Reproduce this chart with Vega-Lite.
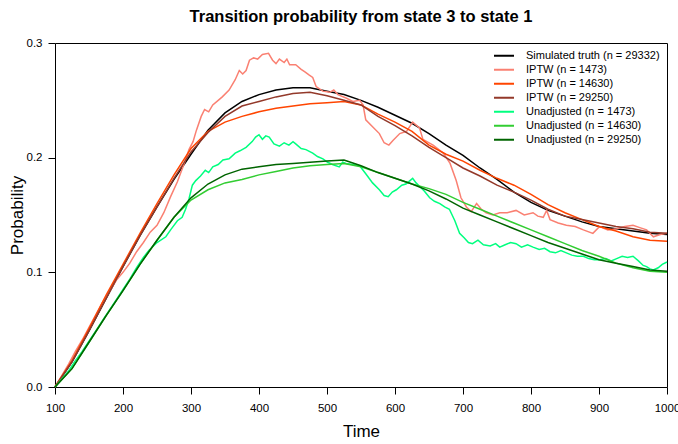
{
  "$schema": "https://vega.github.io/schema/vega-lite/v6.json",
  "width": 612,
  "height": 344,
  "autosize": {"type": "none"},
  "padding": {"left": 55, "top": 43, "right": 11, "bottom": 57},
  "background": "white",
  "config": {
    "font": "Liberation Sans",
    "view": {"stroke": "black", "strokeWidth": 1},
    "axis": {"grid": false, "domain": false, "tickColor": "black", "tickSize": 7, "labelColor": "black", "titleColor": "black", "labelFontSize": 11.5, "titleFontSize": 17, "titleFontWeight": "normal", "labelFont": "Liberation Sans", "titleFont": "Liberation Sans"},
    "title": {"font": "Liberation Sans", "fontSize": 16.5, "fontWeight": "bold", "color": "black"}
  },
  "title": {"text": "Transition probability from state 3 to state 1", "offset": 12},
  "encoding": {
    "x": {"field": "t", "type": "quantitative", "scale": {"domain": [100, 1000], "nice": false, "zero": false},
      "axis": {"values": [100,200,300,400,500,600,700,800,900,1000], "format": "d", "title": "Time", "labelPadding": 8, "titlePadding": 10, "labelFlush": false}},
    "y": {"field": "p", "type": "quantitative", "scale": {"domain": [0, 0.3], "nice": false},
      "axis": {"values": [0, 0.1, 0.2, 0.3], "format": ".1f", "title": "Probability", "labelPadding": 6, "titlePadding": 0}}
  },
  "layer": [
    {
      "data": {"values": [
        {"t":100,"p":0},{"t":125,"p":0.022},{"t":150,"p":0.049},{"t":175,"p":0.077},{"t":200,"p":0.105},{"t":225,"p":0.132},{"t":250,"p":0.157},{"t":275,"p":0.181},{"t":300,"p":0.203},{"t":325,"p":0.224},{"t":350,"p":0.239},{"t":375,"p":0.249},{"t":400,"p":0.255},{"t":425,"p":0.259},{"t":450,"p":0.261},{"t":475,"p":0.261},{"t":500,"p":0.258},{"t":525,"p":0.255},{"t":550,"p":0.25},{"t":575,"p":0.244},{"t":600,"p":0.237},{"t":625,"p":0.23},{"t":650,"p":0.221},{"t":675,"p":0.211},{"t":700,"p":0.202},{"t":725,"p":0.191},{"t":750,"p":0.181},{"t":775,"p":0.17},{"t":800,"p":0.161},{"t":825,"p":0.154},{"t":850,"p":0.149},{"t":875,"p":0.144},{"t":900,"p":0.14},{"t":925,"p":0.138},{"t":950,"p":0.136},{"t":975,"p":0.134},{"t":1000,"p":0.133}
      ]},
      "mark": {"type": "line", "strokeWidth": 1.5},
      "encoding": {
        "color": {"datum": "Simulated truth (n = 29332)", "type": "nominal",
          "scale": {"domain": ["Simulated truth (n = 29332)", "IPTW (n = 1473)", "IPTW (n = 14630)", "IPTW (n = 29250)", "Unadjusted (n = 1473)", "Unadjusted (n = 14630)", "Unadjusted (n = 29250)"],
                    "range": ["#000000", "#FA8072", "#FF4500", "#93392A", "#00FF7F", "#32CD32", "#006400"]},
          "legend": {"title": null, "orient": "none", "legendX": 438, "legendY": 6, "padding": 0, "symbolType": "stroke", "symbolSize": 400, "symbolStrokeWidth": 2, "labelFontSize": 11, "labelColor": "black", "labelOffset": 11, "clipHeight": 13.3, "rowPadding": 0, "labelFont": "Liberation Sans"}}
      }
    },
    {
      "data": {"values": [
        {"t":100,"p":0},{"t":110,"p":0.01},{"t":120,"p":0.02},{"t":130,"p":0.031},{"t":140,"p":0.041},{"t":150,"p":0.052},{"t":160,"p":0.063},{"t":170,"p":0.074},{"t":180,"p":0.083},{"t":190,"p":0.093},{"t":200,"p":0.1},{"t":210,"p":0.108},{"t":220,"p":0.118},{"t":230,"p":0.126},{"t":240,"p":0.135},{"t":250,"p":0.141},{"t":260,"p":0.152},{"t":270,"p":0.166},{"t":280,"p":0.179},{"t":290,"p":0.195},{"t":297,"p":0.207},{"t":303,"p":0.214},{"t":308,"p":0.224},{"t":315,"p":0.236},{"t":320,"p":0.242},{"t":326,"p":0.24},{"t":332,"p":0.246},{"t":340,"p":0.25},{"t":346,"p":0.253},{"t":356,"p":0.259},{"t":365,"p":0.268},{"t":371,"p":0.276},{"t":376,"p":0.273},{"t":381,"p":0.276},{"t":386,"p":0.285},{"t":392,"p":0.287},{"t":398,"p":0.286},{"t":405,"p":0.29},{"t":414,"p":0.291},{"t":420,"p":0.285},{"t":425,"p":0.282},{"t":430,"p":0.286},{"t":437,"p":0.283},{"t":441,"p":0.286},{"t":445,"p":0.281},{"t":454,"p":0.281},{"t":462,"p":0.277},{"t":467,"p":0.275},{"t":474,"p":0.272},{"t":479,"p":0.27},{"t":484,"p":0.262},{"t":494,"p":0.258},{"t":504,"p":0.257},{"t":510,"p":0.259},{"t":516,"p":0.255},{"t":528,"p":0.252},{"t":538,"p":0.249},{"t":548,"p":0.25},{"t":553,"p":0.246},{"t":557,"p":0.233},{"t":567,"p":0.227},{"t":577,"p":0.221},{"t":584,"p":0.213},{"t":591,"p":0.211},{"t":597,"p":0.215},{"t":607,"p":0.221},{"t":617,"p":0.223},{"t":626,"p":0.231},{"t":636,"p":0.226},{"t":641,"p":0.216},{"t":656,"p":0.211},{"t":671,"p":0.204},{"t":681,"p":0.195},{"t":690,"p":0.18},{"t":697,"p":0.165},{"t":705,"p":0.157},{"t":712,"p":0.153},{"t":720,"p":0.16},{"t":727,"p":0.155},{"t":734,"p":0.152},{"t":744,"p":0.15},{"t":754,"p":0.152},{"t":765,"p":0.152},{"t":778,"p":0.154},{"t":790,"p":0.15},{"t":803,"p":0.152},{"t":810,"p":0.149},{"t":818,"p":0.148},{"t":823,"p":0.154},{"t":828,"p":0.146},{"t":840,"p":0.143},{"t":852,"p":0.141},{"t":865,"p":0.14},{"t":877,"p":0.137},{"t":891,"p":0.134},{"t":901,"p":0.14},{"t":913,"p":0.137},{"t":926,"p":0.138},{"t":938,"p":0.14},{"t":950,"p":0.141},{"t":960,"p":0.139},{"t":970,"p":0.137},{"t":980,"p":0.131},{"t":990,"p":0.133},{"t":1000,"p":0.134}
      ]},
      "mark": {"type": "line", "strokeWidth": 1.5},
      "encoding": {"color": {"datum": "IPTW (n = 1473)", "type": "nominal"}}
    },
    {
      "data": {"values": [
        {"t":100,"p":0},{"t":125,"p":0.023},{"t":150,"p":0.051},{"t":175,"p":0.08},{"t":200,"p":0.107},{"t":225,"p":0.134},{"t":250,"p":0.16},{"t":275,"p":0.185},{"t":300,"p":0.208},{"t":325,"p":0.223},{"t":350,"p":0.231},{"t":375,"p":0.236},{"t":400,"p":0.24},{"t":425,"p":0.243},{"t":450,"p":0.245},{"t":475,"p":0.247},{"t":500,"p":0.248},{"t":525,"p":0.249},{"t":550,"p":0.246},{"t":575,"p":0.238},{"t":600,"p":0.231},{"t":625,"p":0.223},{"t":650,"p":0.211},{"t":675,"p":0.203},{"t":700,"p":0.197},{"t":725,"p":0.189},{"t":750,"p":0.182},{"t":775,"p":0.176},{"t":800,"p":0.168},{"t":825,"p":0.159},{"t":850,"p":0.152},{"t":875,"p":0.146},{"t":900,"p":0.14},{"t":925,"p":0.136},{"t":950,"p":0.131},{"t":975,"p":0.128},{"t":1000,"p":0.127}
      ]},
      "mark": {"type": "line", "strokeWidth": 1.5},
      "encoding": {"color": {"datum": "IPTW (n = 14630)", "type": "nominal"}}
    },
    {
      "data": {"values": [
        {"t":100,"p":0},{"t":125,"p":0.022},{"t":150,"p":0.049},{"t":175,"p":0.077},{"t":200,"p":0.105},{"t":225,"p":0.132},{"t":250,"p":0.157},{"t":275,"p":0.182},{"t":300,"p":0.205},{"t":325,"p":0.222},{"t":350,"p":0.236},{"t":375,"p":0.245},{"t":400,"p":0.249},{"t":425,"p":0.253},{"t":450,"p":0.256},{"t":475,"p":0.257},{"t":500,"p":0.254},{"t":525,"p":0.25},{"t":550,"p":0.246},{"t":575,"p":0.236},{"t":600,"p":0.228},{"t":625,"p":0.219},{"t":650,"p":0.209},{"t":675,"p":0.2},{"t":700,"p":0.191},{"t":725,"p":0.184},{"t":750,"p":0.176},{"t":775,"p":0.17},{"t":800,"p":0.163},{"t":825,"p":0.155},{"t":850,"p":0.149},{"t":875,"p":0.146},{"t":900,"p":0.143},{"t":925,"p":0.14},{"t":950,"p":0.138},{"t":975,"p":0.135},{"t":1000,"p":0.134}
      ]},
      "mark": {"type": "line", "strokeWidth": 1.5},
      "encoding": {"color": {"datum": "IPTW (n = 29250)", "type": "nominal"}}
    },
    {
      "data": {"values": [
        {"t":100,"p":0},{"t":110,"p":0.007},{"t":120,"p":0.014},{"t":130,"p":0.023},{"t":140,"p":0.031},{"t":150,"p":0.04},{"t":160,"p":0.049},{"t":170,"p":0.058},{"t":180,"p":0.067},{"t":190,"p":0.076},{"t":200,"p":0.085},{"t":210,"p":0.094},{"t":220,"p":0.104},{"t":230,"p":0.113},{"t":238,"p":0.119},{"t":250,"p":0.126},{"t":263,"p":0.131},{"t":270,"p":0.137},{"t":280,"p":0.145},{"t":287,"p":0.148},{"t":292,"p":0.155},{"t":297,"p":0.164},{"t":302,"p":0.176},{"t":307,"p":0.18},{"t":314,"p":0.184},{"t":321,"p":0.189},{"t":326,"p":0.187},{"t":332,"p":0.192},{"t":340,"p":0.194},{"t":347,"p":0.198},{"t":356,"p":0.199},{"t":365,"p":0.204},{"t":372,"p":0.206},{"t":381,"p":0.209},{"t":390,"p":0.214},{"t":395,"p":0.218},{"t":400,"p":0.22},{"t":405,"p":0.216},{"t":410,"p":0.219},{"t":415,"p":0.218},{"t":422,"p":0.212},{"t":430,"p":0.21},{"t":437,"p":0.213},{"t":444,"p":0.211},{"t":450,"p":0.214},{"t":454,"p":0.212},{"t":462,"p":0.208},{"t":469,"p":0.207},{"t":479,"p":0.204},{"t":486,"p":0.201},{"t":494,"p":0.199},{"t":501,"p":0.196},{"t":508,"p":0.194},{"t":518,"p":0.192},{"t":523,"p":0.196},{"t":528,"p":0.195},{"t":538,"p":0.194},{"t":548,"p":0.193},{"t":557,"p":0.186},{"t":567,"p":0.178},{"t":577,"p":0.172},{"t":584,"p":0.167},{"t":590,"p":0.166},{"t":596,"p":0.17},{"t":602,"p":0.172},{"t":610,"p":0.176},{"t":616,"p":0.177},{"t":622,"p":0.18},{"t":626,"p":0.182},{"t":631,"p":0.178},{"t":636,"p":0.175},{"t":643,"p":0.171},{"t":651,"p":0.165},{"t":658,"p":0.162},{"t":666,"p":0.16},{"t":673,"p":0.157},{"t":680,"p":0.155},{"t":688,"p":0.145},{"t":695,"p":0.134},{"t":702,"p":0.13},{"t":708,"p":0.126},{"t":714,"p":0.125},{"t":722,"p":0.128},{"t":730,"p":0.124},{"t":740,"p":0.123},{"t":748,"p":0.125},{"t":754,"p":0.122},{"t":762,"p":0.124},{"t":770,"p":0.126},{"t":778,"p":0.125},{"t":786,"p":0.122},{"t":795,"p":0.124},{"t":803,"p":0.122},{"t":812,"p":0.12},{"t":820,"p":0.121},{"t":828,"p":0.118},{"t":836,"p":0.117},{"t":844,"p":0.119},{"t":852,"p":0.117},{"t":860,"p":0.115},{"t":868,"p":0.114},{"t":877,"p":0.114},{"t":885,"p":0.112},{"t":893,"p":0.111},{"t":901,"p":0.111},{"t":910,"p":0.112},{"t":918,"p":0.11},{"t":926,"p":0.112},{"t":934,"p":0.114},{"t":942,"p":0.113},{"t":950,"p":0.114},{"t":958,"p":0.11},{"t":965,"p":0.106},{"t":970,"p":0.105},{"t":975,"p":0.103},{"t":980,"p":0.102},{"t":987,"p":0.104},{"t":993,"p":0.107},{"t":1000,"p":0.109}
      ]},
      "mark": {"type": "line", "strokeWidth": 1.5},
      "encoding": {"color": {"datum": "Unadjusted (n = 1473)", "type": "nominal"}}
    },
    {
      "data": {"values": [
        {"t":100,"p":0},{"t":125,"p":0.016},{"t":150,"p":0.039},{"t":175,"p":0.062},{"t":200,"p":0.084},{"t":225,"p":0.107},{"t":250,"p":0.128},{"t":275,"p":0.148},{"t":300,"p":0.163},{"t":325,"p":0.172},{"t":350,"p":0.178},{"t":375,"p":0.181},{"t":400,"p":0.185},{"t":425,"p":0.188},{"t":450,"p":0.191},{"t":475,"p":0.193},{"t":500,"p":0.194},{"t":525,"p":0.195},{"t":550,"p":0.192},{"t":575,"p":0.187},{"t":600,"p":0.182},{"t":625,"p":0.177},{"t":650,"p":0.173},{"t":675,"p":0.168},{"t":700,"p":0.161},{"t":725,"p":0.155},{"t":750,"p":0.149},{"t":775,"p":0.143},{"t":800,"p":0.137},{"t":825,"p":0.131},{"t":850,"p":0.125},{"t":875,"p":0.119},{"t":900,"p":0.114},{"t":925,"p":0.108},{"t":950,"p":0.104},{"t":975,"p":0.101},{"t":1000,"p":0.1}
      ]},
      "mark": {"type": "line", "strokeWidth": 1.5},
      "encoding": {"color": {"datum": "Unadjusted (n = 14630)", "type": "nominal"}}
    },
    {
      "data": {"values": [
        {"t":100,"p":0},{"t":125,"p":0.016},{"t":150,"p":0.039},{"t":175,"p":0.062},{"t":200,"p":0.084},{"t":225,"p":0.107},{"t":250,"p":0.128},{"t":275,"p":0.148},{"t":300,"p":0.165},{"t":325,"p":0.177},{"t":350,"p":0.185},{"t":375,"p":0.19},{"t":400,"p":0.192},{"t":425,"p":0.194},{"t":450,"p":0.195},{"t":475,"p":0.196},{"t":500,"p":0.197},{"t":525,"p":0.198},{"t":550,"p":0.193},{"t":575,"p":0.187},{"t":600,"p":0.182},{"t":625,"p":0.177},{"t":650,"p":0.171},{"t":675,"p":0.164},{"t":700,"p":0.156},{"t":725,"p":0.15},{"t":750,"p":0.144},{"t":775,"p":0.138},{"t":800,"p":0.132},{"t":825,"p":0.126},{"t":850,"p":0.121},{"t":875,"p":0.116},{"t":900,"p":0.111},{"t":925,"p":0.108},{"t":950,"p":0.105},{"t":975,"p":0.102},{"t":1000,"p":0.101}
      ]},
      "mark": {"type": "line", "strokeWidth": 1.5},
      "encoding": {"color": {"datum": "Unadjusted (n = 29250)", "type": "nominal"}}
    }
  ]
}
